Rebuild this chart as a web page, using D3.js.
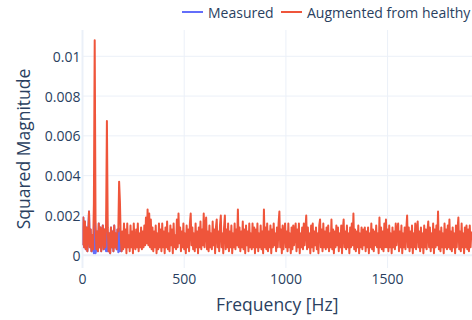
<!DOCTYPE html>
<html><head><meta charset="utf-8">
<script src="https://cdn.jsdelivr.net/npm/d3@7"></script>
<style>
body{margin:0;background:#fff}
svg{display:block;font-family:"Open Sans",sans-serif}
</style>
</head><body>
<svg id="chart" width="472" height="320"></svg>
<script>
// Spectrum series; bins are spaced binStepHz apart starting at 0 Hz.
// Values are given in units of 1e-4 (squared magnitude).
const seriesNames = ["Measured", "Augmented from healthy"];
const seriesColors = ["#636efa", "#EF553B"];
const binStepHz = 4;
const valueUnit = 1e-4;

const measuredE4 = [
  5,19,4,17,3,14,2,11,22,4,13,2,10,3,1,18,1,3,12,2,16,4,14,2,11,
  15,3,13,4,2,22,2,2,11,1,14,4,12,2,15,4,11,3,13,1.5,13.5,2,9,2,12
];

const augmentedE4 = [
  5,19,4,17,3,14,2,11,22,4,13,2,10,3,26,108,18,3,12,2,16,4,14,2,11,
  15,3,13,4,16,67.5,14,2,11,1,14,4,12,2,15,4,11,3,13,12,37,27,9,2,12,
  3,16,4,13,1,16,4,10,2,15,4,12,1,16,5,3,13,4,16,2,11,4,14,3,12,
  4,15,5,19,6,23,5,21,4,18,3,14,2,12,4,15,1,11,3,16,4,13,2,16,4,
  12,1,14,4,17,3,11,2,15,5,13,1,16,4,10,3,18,4,21,6,14,2,12,4,16,
  3,11,1,15,4,13,2,16,21,5,14,3,11,2,16,4,12,1,14,4,17,3,13,5,21,
  4,14,19,3,12,2,15,4,11,3,17,5,13,1,14,18,4,12,2,15,20,4,11,1,14,
  20,3,13,4,16,2,12,4,15,1,11,4,16,3,13,5,23,4,14,2,12,4,17,3,13,
  1,15,5,12,2,16,4,11,3,16,4,14,1,13,4,16,2,11,4,15,3,12,1,23,4,
  14,3,16,2,12,4,15,1,13,4,16,5,11,2,14,4,16,22,4,13,1,15,3,11,16,
  4,12,2,16,4,11,1,14,3,15,5,12,16,2,13,4,16,1,11,4,14,3,16,5,13,
  20,3,14,4,11,1,15,4,16,2,12,5,14,3,11,1,15,18,4,13,2,16,4,12,3,
  14,4,15,2,11,4,18,3,13,1,12,4,15,5,14,2,11,4,15,1,13,18,4,12,3,
  15,4,11,1,14,4,16,5,21,3,13,2,12,4,15,1,11,4,14,3,13,5,14,2,12,
  4,14,1,11,4,16,3,13,2,12,5,15,4,11,1,19,4,14,3,12,2,16,4,18,4,
  13,2,15,4,11,1,14,4,12,3,16,5,13,16,2,12,4,15,1,11,4,14,3,13,20,
  4,14,2,12,4,15,1,11,4,16,3,13,17,4,12,2,14,4,11,1,15,4,13,3,12,
  17,4,14,2,11,4,16,1,13,4,15,5,22,3,12,2,14,4,11,1,16,4,13,3,15,
  4,18,3,12,2,14,4,11,1,15,4,13,19,3,12,2,16,4,11,1,14,4,15,3,13,
  2,15,4,12
];

const xTicks = [0, 500, 1000, 1500];
const xTickLabels = ["0", "500", "1000", "1500"];
const yTicks = [0, 0.002, 0.004, 0.006, 0.008, 0.01];
const yTickLabels = ["0", "0.002", "0.004", "0.006", "0.008", "0.01"];
const xDomain = [0, 1915];
const yDomain = [-0.00064, 0.01132];

const toPoints = arr => arr.map((v, i) => ({ f: i * binStepHz, v: v * valueUnit }));
const series = [toPoints(measuredE4), toPoints(augmentedE4)];

// Layout
const plot = { left: 82.5, right: 472, top: 30, bottom: 268 };
const textColor = "#2a3f5f";
const gridColor = "#EBF0F8";

const svg = d3.select("#chart");
const x = d3.scaleLinear(xDomain, [plot.left, plot.right]);
const y = d3.scaleLinear(yDomain, [plot.bottom, plot.top]);

svg.append("defs").append("clipPath").attr("id", "plotClip")
  .append("rect")
  .attr("x", plot.left).attr("y", plot.top)
  .attr("width", plot.right - plot.left).attr("height", plot.bottom - plot.top);

// Grid
const grid = svg.append("g");
grid.selectAll("line.h").data(yTicks).join("line")
  .attr("x1", plot.left).attr("x2", plot.right)
  .attr("y1", d => y(d)).attr("y2", d => y(d))
  .attr("stroke", gridColor).attr("stroke-width", d => d === 0 ? 2 : 1);
grid.selectAll("line.v").data(xTicks).join("line")
  .attr("y1", plot.top).attr("y2", plot.bottom)
  .attr("x1", d => x(d)).attr("x2", d => x(d))
  .attr("stroke", gridColor).attr("stroke-width", d => d === 0 ? 2 : 1);

// Tick labels
svg.append("g").selectAll("text").data(yTicks).join("text")
  .attr("x", plot.left - 2).attr("y", d => y(d))
  .attr("text-anchor", "end").attr("dominant-baseline", "central")
  .attr("font-size", 14).attr("fill", textColor)
  .text((d, i) => yTickLabels[i]);
svg.append("g").selectAll("text").data(xTicks).join("text")
  .attr("x", d => x(d)).attr("y", 278)
  .attr("text-anchor", "middle").attr("dominant-baseline", "central")
  .attr("font-size", 14).attr("fill", textColor)
  .text((d, i) => xTickLabels[i]);

// Axis titles
svg.append("text")
  .attr("x", (plot.left + plot.right) / 2).attr("y", 304)
  .attr("text-anchor", "middle").attr("dominant-baseline", "central")
  .attr("font-size", 17.5).attr("fill", textColor)
  .text("Frequency [Hz]");
svg.append("text")
  .attr("transform", `translate(23,${(plot.top + plot.bottom) / 2}) rotate(-90)`)
  .attr("text-anchor", "middle").attr("dominant-baseline", "central")
  .attr("font-size", 17.5).attr("fill", textColor)
  .text("Squared Magnitude");

// Series lines
const line = d3.line().x(d => x(d.f)).y(d => y(d.v));
svg.append("g").attr("clip-path", "url(#plotClip)")
  .selectAll("path").data(series).join("path")
  .attr("d", line)
  .attr("fill", "none")
  .attr("stroke", (d, i) => seriesColors[i])
  .attr("stroke-width", 2)
  .attr("stroke-linejoin", "round");

// Legend
const legendItems = [
  { x0: 182, name: seriesNames[0], color: seriesColors[0] },
  { x0: 281, name: seriesNames[1], color: seriesColors[1] }
];
const lg = svg.append("g").selectAll("g").data(legendItems).join("g")
  .attr("transform", d => `translate(${d.x0},12)`);
lg.append("line").attr("x1", 0).attr("x2", 21).attr("y1", 0).attr("y2", 0)
  .attr("stroke", d => d.color).attr("stroke-width", 2);
lg.append("text").attr("x", 26).attr("y", 0)
  .attr("dominant-baseline", "central")
  .attr("font-size", 14).attr("fill", textColor)
  .text(d => d.name);
</script>
</body></html>
